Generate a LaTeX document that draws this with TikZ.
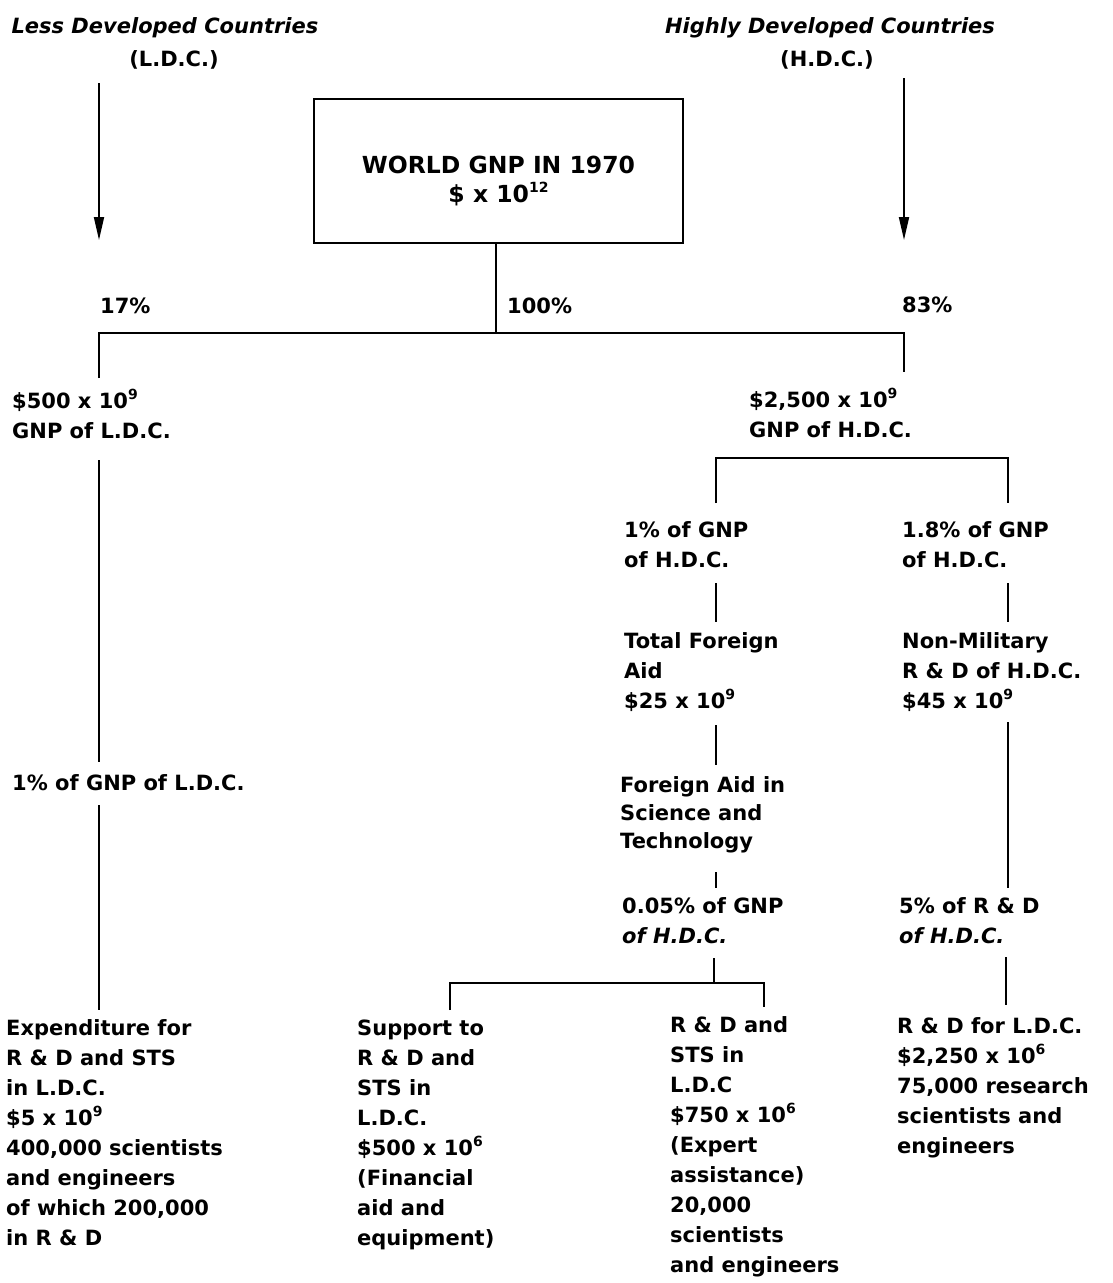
\documentclass[tikz,border=0pt]{standalone}
\usepackage{fontspec}
\setmainfont{DejaVu Sans}
\usetikzlibrary{arrows.meta}
% raised exponent at a fixed small size
\newcommand\pw[1]{\raisebox{0.42em}{\fontsize{14}{14}\selectfont #1}}

\begin{document}
% multi-line labels are placed by the baseline of their last line
\begin{tikzpicture}[x=1pt,y=-1pt,
  lbl/.style={inner sep=0pt, align=left, anchor=base west,
    font=\fontsize{21}{30}\selectfont\bfseries},
  head/.style={inner sep=0pt, anchor=base, font=\fontsize{21}{30}\selectfont\bfseries},
  boxtxt/.style={inner sep=0pt, anchor=base, align=center,
    font=\fontsize{23.5}{29}\selectfont\bfseries},
  wire/.style={line width=1.8pt},
  arr/.style={wire, -{Triangle[length=23pt,width=10pt]}},
  gnpbox/.style={draw, line width=1.8pt, minimum width=369pt, minimum height=144pt, inner sep=0pt}]
\useasboundingbox (0,0) rectangle (1112,1283);

% headings and the two downward arrows
\node[head] (ldc)   at (165,33) {\itshape Less Developed Countries};
\node[head] (ldcab) at (174,66) {(L.D.C.)};
\node[head] (hdc)   at (830,33) {\itshape Highly Developed Countries};
\node[head] (hdcab) at (827,66) {(H.D.C.)};
\coordinate (la0) at (99,83);  \coordinate (la1) at (99,240);
\coordinate (ra0) at (904,78); \coordinate (ra1) at (904,240);
\draw[arr] (la0) -- (la1);
\draw[arr] (ra0) -- (ra1);

% world total
\node[gnpbox] (world) at (498.5,171) {};
\node[boxtxt] (worldtxt) at (498.5,202) {WORLD GNP IN 1970\\\$ x 10\pw{12}};

\node[lbl] (p17)  at (100,313) {17\%};
\node[lbl] (p100) at (507,313) {100\%};
\node[lbl] (p83)  at (902,312) {83\%};

% first split
\coordinate (s0) at (496,333);
\coordinate (sL) at (99,333);
\coordinate (sR) at (904,333);
\coordinate (sLd) at (99,378);
\coordinate (sRd) at (904,372);
\draw[wire] (world.south -| s0) -- (s0);
\draw[wire] (sLd) -- (sL) -- (sR) -- (sRd);

% L.D.C. column
\node[lbl] (gnpL) at (12,438) {\$500 x 10\pw{9}\\GNP of L.D.C.};
\coordinate (c1a) at (99,460); \coordinate (c1b) at (99,762);
\draw[wire] (c1a) -- (c1b);
\node[lbl] (pctL) at (12,790) {1\% of GNP of L.D.C.};
\coordinate (c2a) at (99,805); \coordinate (c2b) at (99,1010);
\draw[wire] (c2a) -- (c2b);
\node[lbl] (expL) at (6,1245) {Expenditure for\\R \& D and STS\\in L.D.C.\\\$5 x 10\pw{9}\\400,000 scientists\\and engineers\\of which 200,000\\in R \& D};

% H.D.C. column
\node[lbl] (gnpH) at (749,437) {\$2,500 x 10\pw{9}\\GNP of H.D.C.};
\coordinate (hL) at (716,458); \coordinate (hR) at (1008,458);
\coordinate (hLd) at (716,503); \coordinate (hRd) at (1008,503);
\draw[wire] (hLd) -- (hL) -- (hR) -- (hRd);

\node[lbl] (aid1) at (624,567) {1\% of GNP\\of H.D.C.};
\node[lbl] (rd1)  at (902,567) {1.8\% of GNP\\of H.D.C.};
\coordinate (a1a) at (716,583); \coordinate (a1b) at (716,622);
\coordinate (r1a) at (1008,583); \coordinate (r1b) at (1008,622);
\draw[wire] (a1a) -- (a1b);
\draw[wire] (r1a) -- (r1b);

\node[lbl] (aid2) at (624,708) {Total Foreign\\Aid\\\$25 x 10\pw{9}};
\node[lbl] (rd2)  at (902,708) {Non-Military\\R \& D of H.D.C.\\\$45 x 10\pw{9}};
\coordinate (a2a) at (716,725); \coordinate (a2b) at (716,765);
\coordinate (r2a) at (1008,722); \coordinate (r2b) at (1008,888);
\draw[wire] (a2a) -- (a2b);
\draw[wire] (r2a) -- (r2b);

\node[lbl, font=\fontsize{21}{28}\selectfont\bfseries] (aid3) at (620,848) {Foreign Aid in\\Science and\\Technology};
\coordinate (a3a) at (716,872); \coordinate (a3b) at (716,888);
\draw[wire] (a3a) -- (a3b);

\node[lbl] (aid4) at (622,943) {0.05\% of GNP\\\textit{of H.D.C.}};
\node[lbl] (rd3)  at (899,943) {5\% of R \& D\\\textit{of H.D.C.}};

% split of science and technology aid
\coordinate (a4a) at (714,958); \coordinate (a4b) at (714,983);
\coordinate (bL) at (450,983); \coordinate (bR) at (764,983);
\coordinate (bLd) at (450,1010); \coordinate (bRd) at (764,1007);
\draw[wire] (a4a) -- (a4b);
\draw[wire] (bLd) -- (bL) -- (bR) -- (bRd);
\coordinate (r3a) at (1006,957); \coordinate (r3b) at (1006,1005);
\draw[wire] (r3a) -- (r3b);

\node[lbl] (supp) at (357,1245) {Support to\\R \& D and\\STS in\\L.D.C.\\\$500 x 10\pw{6}\\(Financial\\aid and\\equipment)};
\node[lbl] (expt) at (670,1272) {R \& D and\\STS in\\L.D.C\\\$750 x 10\pw{6}\\(Expert\\assistance)\\20,000\\scientists\\and engineers};
\node[lbl] (rdl)  at (897,1153) {R \& D for L.D.C.\\\$2,250 x 10\pw{6}\\75,000 research\\scientists and\\engineers};
\end{tikzpicture}
\end{document}
